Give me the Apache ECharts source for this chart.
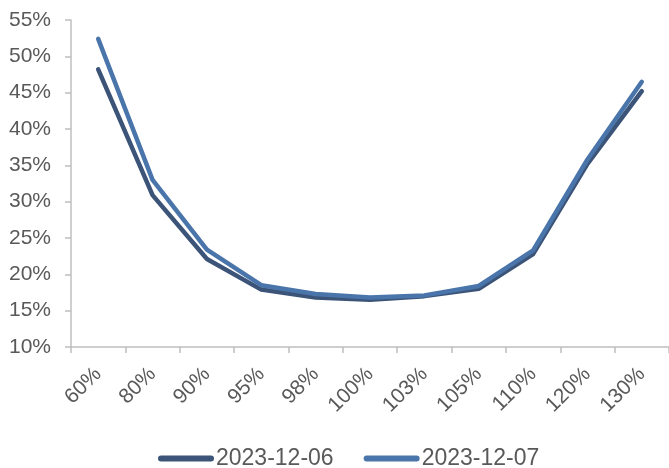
<!DOCTYPE html>
<html><head><meta charset="utf-8">
<script src="https://cdn.jsdelivr.net/npm/echarts@6/dist/echarts.min.js"></script>
<style>html,body{margin:0;padding:0;background:#fff}#c{width:669px;height:468px}</style>
</head><body><div id="c"></div>
<script>
const categories = ['60%','80%','90%','95%','98%','100%','103%','105%','110%','120%','130%'];
const series1Name = '2023-12-06';
const series1 = [48.2, 30.9, 22.1, 17.9, 16.8, 16.5, 17.0, 18.0, 22.8, 35.2, 45.2];
const series2Name = '2023-12-07';
const series2 = [52.4, 33.0, 23.4, 18.5, 17.3, 16.8, 17.1, 18.4, 23.3, 35.8, 46.5];
const yTicks = {min: 10, max: 55, interval: 5};

const font = 'Liberation Sans, Arial, sans-serif';
const chart = echarts.init(document.getElementById('c'), null, {renderer: 'canvas'});
const legendIcon = 'path://M3,0 H53 A3,3 0 0 1 53,6 H3 A3,3 0 0 1 3,0 Z';
chart.setOption({
  animation: false,
  grid: {left: 71, top: 20, right: 0, bottom: 121, containLabel: false},
  xAxis: {
    type: 'category', data: categories, boundaryGap: true,
    axisLine: {lineStyle: {color: '#bfbfbf', width: 1.5}},
    axisTick: {show: true, alignWithLabel: false, length: 6, lineStyle: {color: '#bfbfbf', width: 1.5}},
    axisLabel: {rotate: 45, color: '#595959', fontSize: 21, fontFamily: font, margin: 24, interval: 0}
  },
  yAxis: {
    type: 'value', min: yTicks.min, max: yTicks.max, interval: yTicks.interval,
    axisLine: {show: true, lineStyle: {color: '#bfbfbf', width: 1.5}},
    axisTick: {show: true, length: 6, lineStyle: {color: '#bfbfbf', width: 1.5}},
    splitLine: {show: false},
    axisLabel: {color: '#595959', fontSize: 21, fontFamily: font, margin: 20, formatter: v => v + '%'}
  },
  legend: {
    top: 447, left: 158, padding: 0, itemWidth: 56, itemHeight: 6, itemGap: 30,
    textStyle: {color: '#595959', fontSize: 23, fontFamily: font, padding: [0,0,0,-3]},
    data: [{name: series1Name, icon: legendIcon}, {name: series2Name, icon: legendIcon}]
  },
  series: [
    {name: series1Name, type: 'line', data: series1, symbol: 'none', color: '#3b5478',
     lineStyle: {width: 4.5, color: '#3b5478', cap: 'round', join: 'round'}},
    {name: series2Name, type: 'line', data: series2, symbol: 'none', color: '#4a75aa',
     lineStyle: {width: 4.5, color: '#4a75aa', cap: 'round', join: 'round'}}
  ]
});
</script></body></html>
